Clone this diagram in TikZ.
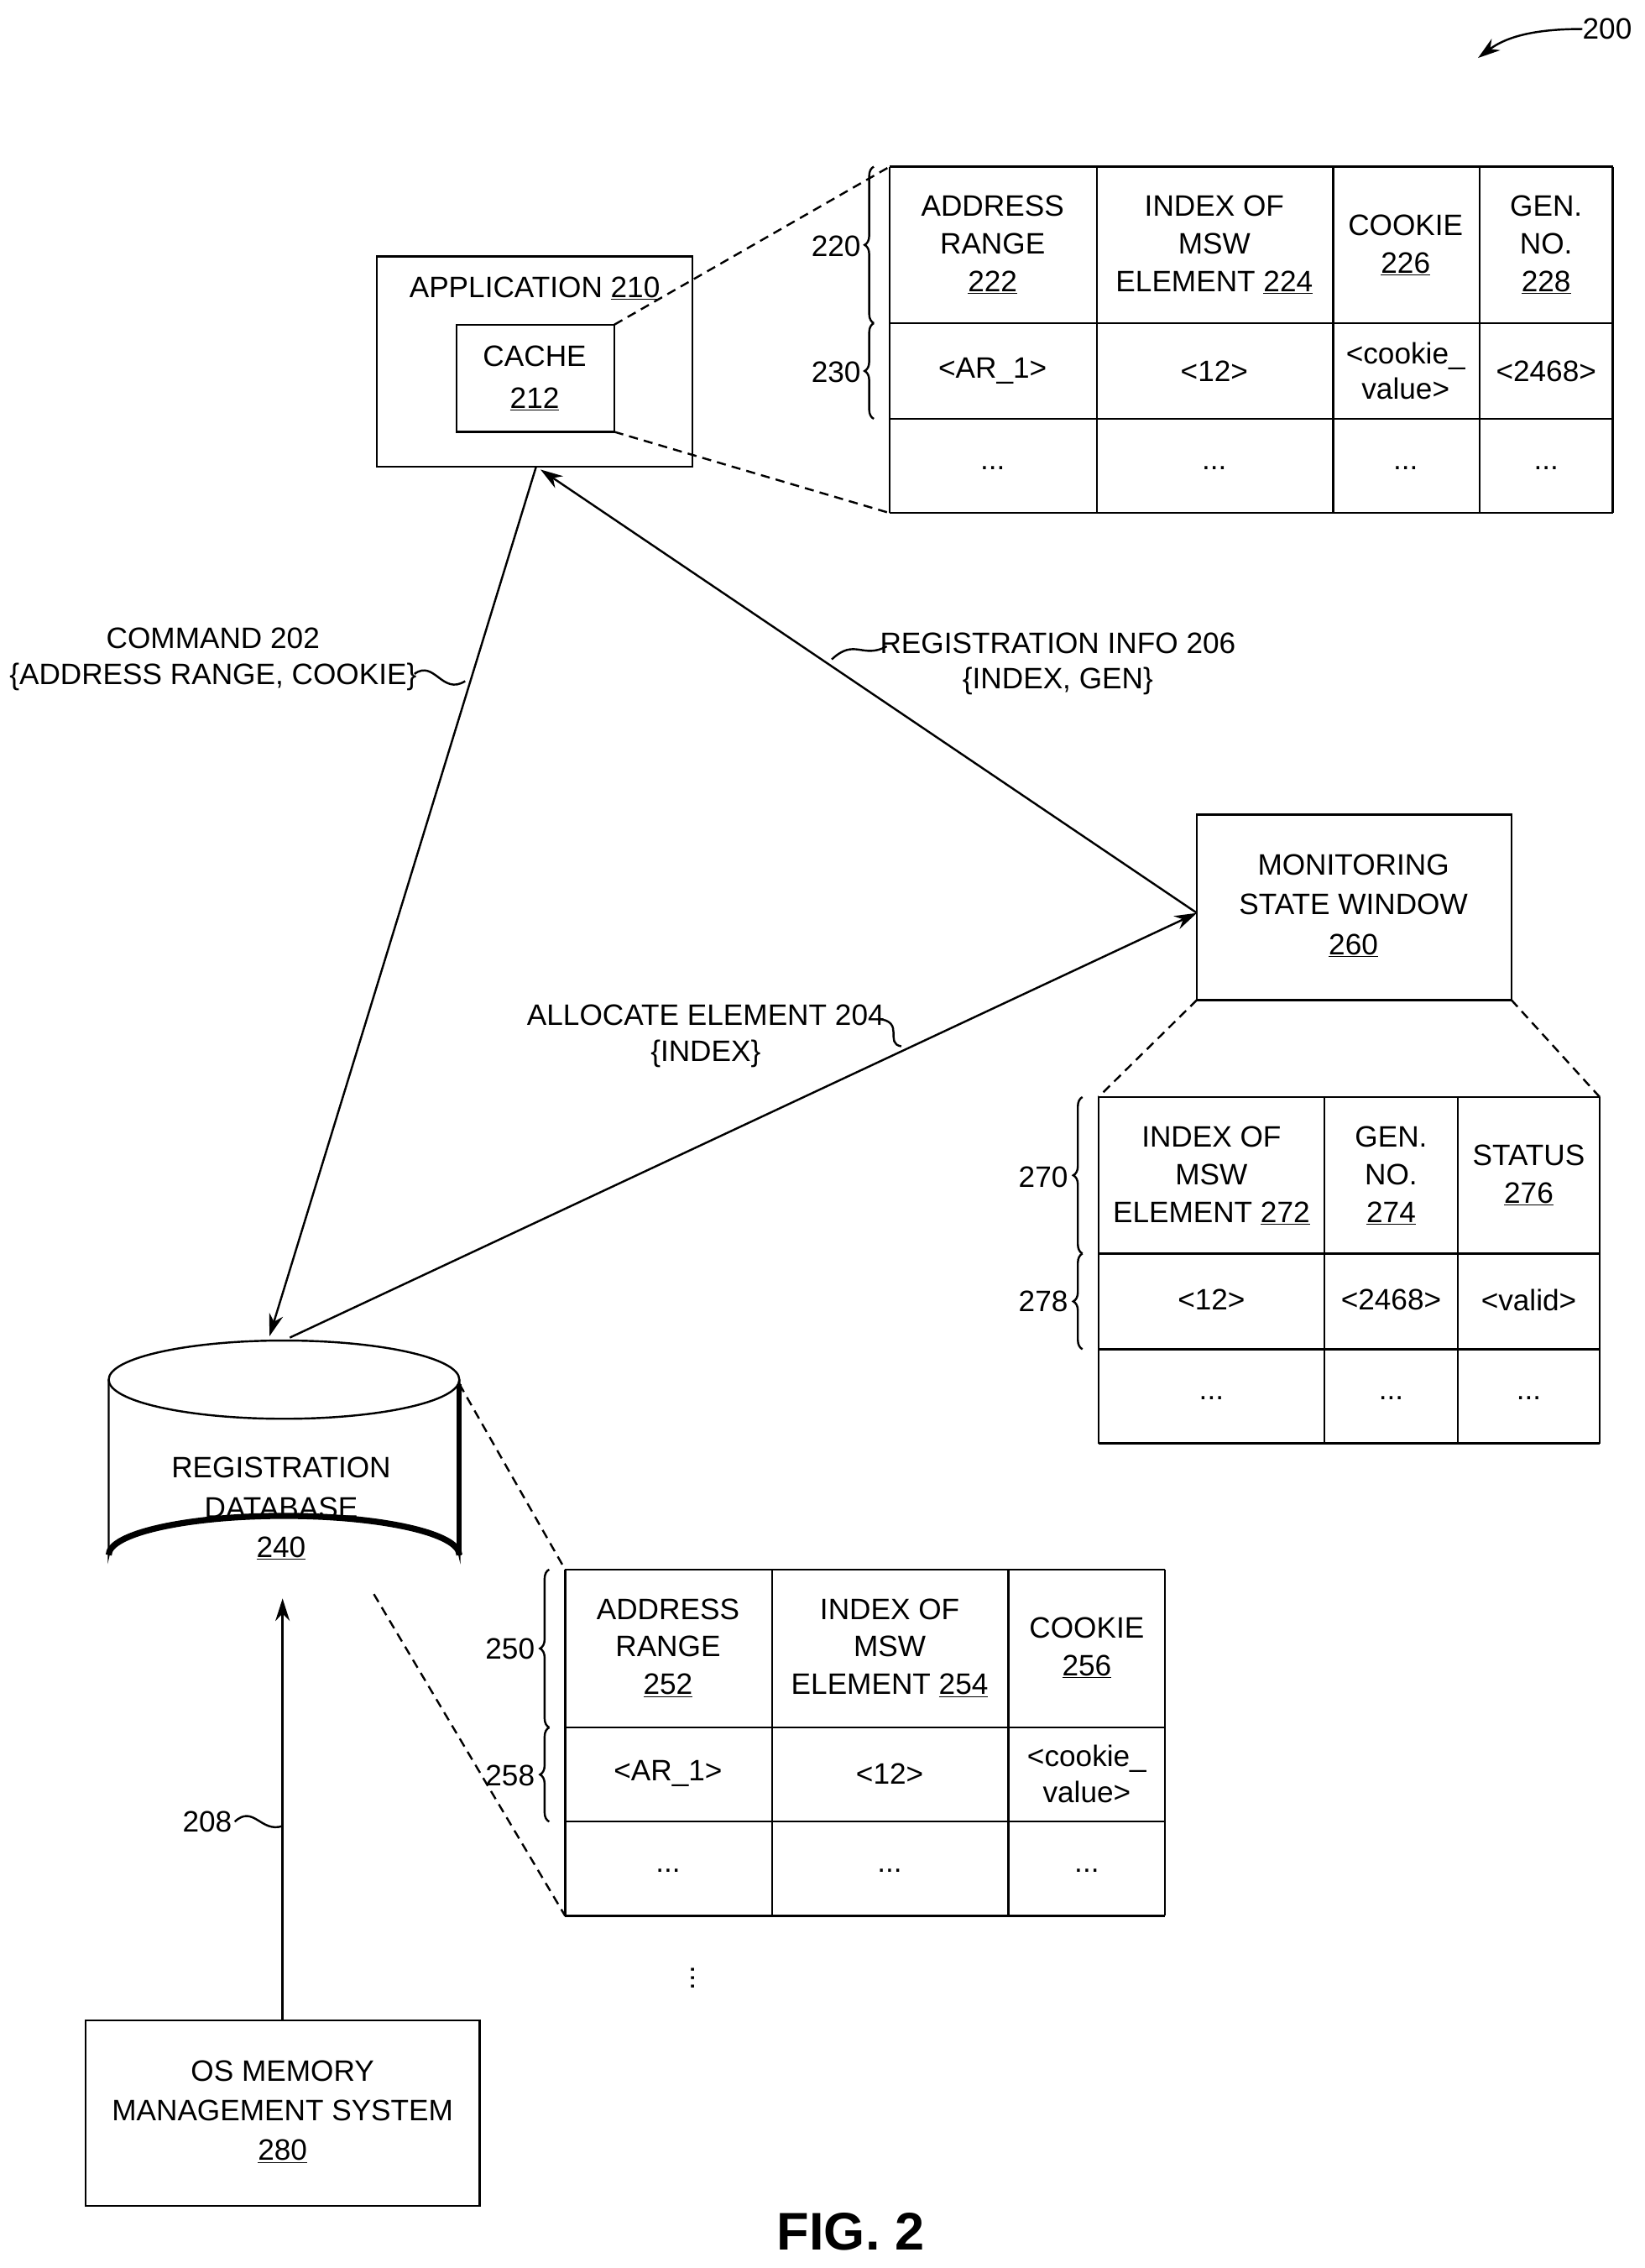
\documentclass[tikz,border=0pt]{standalone}
\usepackage{fontspec}
\setmainfont{Liberation Sans}
\usetikzlibrary{arrows.meta,decorations.pathreplacing,shapes.geometric}
\begin{document}
\begin{tikzpicture}[x=0.05cm,y=-0.05cm,
  every node/.style={font=\fontsize{29}{35}\selectfont, align=center, inner sep=0pt},
  box/.style={draw, line width=2pt},
  ln/.style={line width=2pt},
  arr/.style={line width=2pt,-{Stealth[length=22pt,width=14pt]}},
  dsh/.style={line width=2pt,dash pattern=on 9pt off 6pt},
  br/.style={line width=2pt,decorate,decoration={brace,amplitude=9pt}},
  sq/.style={line width=2pt}]
\useasboundingbox (0,0) rectangle (1135,1565);
% 200
\node[anchor=west] (l200) at (1092,20) {200};
\coordinate (a200) at (1020,40);
\draw[arr] (l200.west) .. controls (1060,20) and (1040,25) .. (a200);
% Application
\draw[box] (260,177) rectangle (478,322);
\node (app) at (369,199) {APPLICATION \underline{210}};
\draw[box] (315,224) rectangle (424,298);
\node (cache) at (369,261) {CACHE\\[6pt]\underline{212}};
\coordinate (appb) at (370,322);
\coordinate (appr) at (373,324);
% Table 1
\foreach \x in {614,757,920,1021,1113} \draw[ln] (\x,115) -- (\x,354);
\foreach \y in {115,223,289,354} \draw[ln] (614,\y) -- (1113,\y);
\node (t11) at (685,169) {ADDRESS\\[2pt]RANGE\\[2pt]\underline{222}};
\node (t12) at (838,169) {INDEX OF\\[2pt]MSW\\[2pt]ELEMENT \underline{224}};
\node (t13) at (970,169) {COOKIE\\[2pt]\underline{226}};
\node (t14) at (1067,169) {GEN.\\[2pt]NO.\\[2pt]\underline{228}};
\node (t21) at (685,256) {<AR\_1>};
\node (t22) at (838,256) {<12>};
\node (t23) at (970,256) {<cookie\_\\value>};
\node (t24) at (1067,256) {<2468>};
\foreach \x/\n in {685/a,838/b,970/c,1067/d} \node (t3\n) at (\x,323) {...};
\draw[br] (603,223) -- (603,115);
\draw[br] (603,289) -- (603,223);
\node (l220) at (577,170) {220};
\node (l230) at (577,257) {230};
\draw[dsh] (424,224) -- (614,115);
\draw[dsh] (424,298) -- (614,354);
% Monitoring
\draw[box] (826,562) rectangle (1043,690);
\node (msw) at (934,625) {MONITORING\\[4pt]STATE WINDOW\\[4pt]\underline{260}};
\coordinate (mswl) at (826,630);
% Table 2
\foreach \x in {758,914,1006,1104} \draw[ln] (\x,757) -- (\x,996);
\foreach \y in {757,865,931,996} \draw[ln] (758,\y) -- (1104,\y);
\node (u11) at (836,811) {INDEX OF\\[2pt]MSW\\[2pt]ELEMENT \underline{272}};
\node (u12) at (960,811) {GEN.\\[2pt]NO.\\[2pt]\underline{274}};
\node (u13) at (1055,811) {STATUS\\[2pt]\underline{276}};
\node (u21) at (836,897) {<12>};
\node (u22) at (960,897) {<2468>};
\node (u23) at (1055,897) {<valid>};
\foreach \x/\n in {836/a,960/b,1055/c} \node (u3\n) at (\x,965) {...};
\draw[br] (747,865) -- (747,757);
\draw[br] (747,931) -- (747,865);
\node (l270) at (720,812) {270};
\node (l278) at (720,898) {278};
\draw[dsh] (826,690) -- (758,757);
\draw[dsh] (1043,690) -- (1104,757);
% Database
\draw[ln, fill=white] (75,952) -- (75,1073) arc[start angle=180,end angle=360,x radius=121,y radius=27] -- (317,952);
\draw[line width=6pt] (75,1073) arc[start angle=180,end angle=360,x radius=121,y radius=27];
\draw[ln] (196,952) ellipse[x radius=121,y radius=27];
\draw[line width=5pt] (317,955) -- (317,1073);
\node (db) at (194,1041) {REGISTRATION\\[4pt]DATABASE\\[4pt]\underline{240}};
\coordinate (dbt1) at (186,922);
\coordinate (dbt2) at (200,923);
\coordinate (dbb) at (195,1103);
% Table 3
\foreach \x in {390,533,696,804} \draw[ln] (\x,1083) -- (\x,1322);
\foreach \y in {1083,1192,1257,1322} \draw[ln] (390,\y) -- (804,\y);
\node (v11) at (461,1137) {ADDRESS\\[2pt]RANGE\\[2pt]\underline{252}};
\node (v12) at (614,1137) {INDEX OF\\[2pt]MSW\\[2pt]ELEMENT \underline{254}};
\node (v13) at (750,1137) {COOKIE\\[2pt]\underline{256}};
\node (v21) at (461,1224) {<AR\_1>};
\node (v22) at (614,1224) {<12>};
\node (v23) at (750,1224) {<cookie\_\\value>};
\foreach \x/\n in {461/a,614/b,750/c} \node (v3\n) at (\x,1291) {...};
\draw[br] (379,1192) -- (379,1083);
\draw[br] (379,1257) -- (379,1192);
\node (l250) at (352,1138) {250};
\node (l258) at (352,1225) {258};
\draw[dsh] (317,955) -- (390,1083);
\draw[dsh] (258,1100) -- (390,1322);
\node (vd) at (478,1365) {\rotatebox{90}{...}};
% OS
\draw[box] (59,1394) rectangle (331,1522);
\node (os) at (195,1457) {OS MEMORY\\[4pt]MANAGEMENT SYSTEM\\[4pt]\underline{280}};
\coordinate (ost) at (195,1394);
% arrows
\draw[arr] (appb) -- (dbt1);
\draw[arr] (mswl) -- (appr);
\draw[arr] (dbt2) -- (mswl);
\draw[arr] (ost) -- (dbb);
% labels
\node (c202) at (147,455) {COMMAND 202\\{\{}ADDRESS RANGE, COOKIE\}};
\draw[sq] (286,465) .. controls (300,455) and (305,480) .. (321,470);
\node (r206) at (730,458) {REGISTRATION INFO 206\\{\{}INDEX, GEN\}};
\draw[sq] (574,455) .. controls (590,440) and (595,455) .. (612,446);
\node (a204) at (487,715) {ALLOCATE ELEMENT 204\\{\{}INDEX\}};
\draw[sq] (606,703) .. controls (625,705) and (610,720) .. (622,722);
\node (l208) at (143,1257) {208};
\draw[sq] (162,1257) .. controls (175,1245) and (180,1265) .. (195,1260);
\node[font=\fontsize{52}{60}\selectfont\bfseries] (fig) at (587,1540) {FIG. 2};
\end{tikzpicture}
\end{document}
